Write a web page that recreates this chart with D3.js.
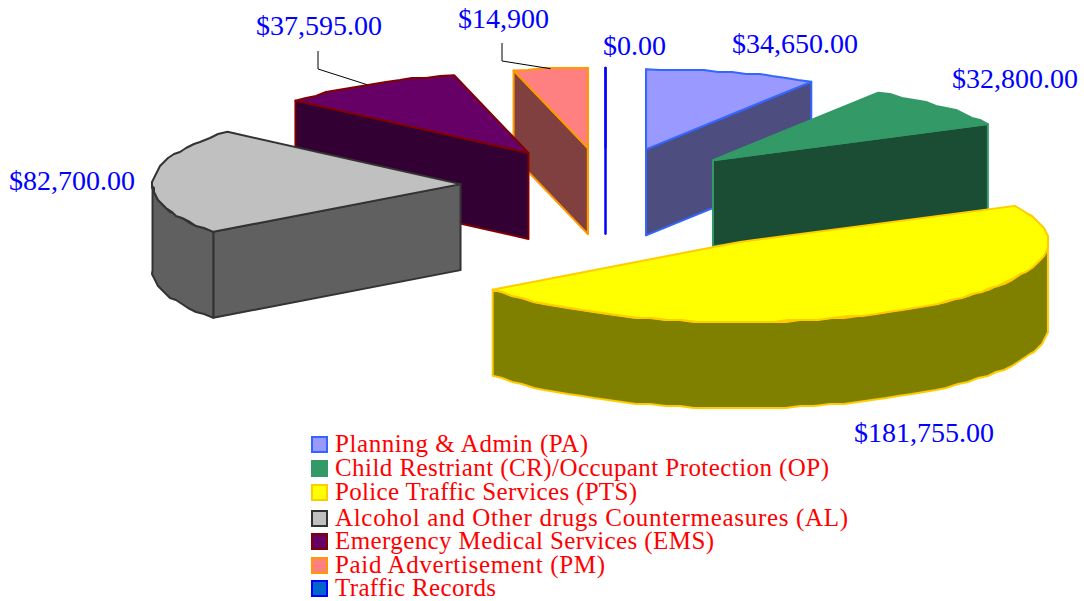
<!DOCTYPE html>
<html>
<head>
<meta charset="utf-8">
<script src="https://cdnjs.cloudflare.com/ajax/libs/d3/7.8.5/d3.min.js"></script>
<style>
  html, body { margin: 0; padding: 0; background: #fff; }
  svg { display: block; }
  text { font-family: "Liberation Serif", serif; }
</style>
</head>
<body>
<script>
// chart data
var categories = [
  "Planning & Admin (PA)",
  "Child Restriant (CR)/Occupant Protection (OP)",
  "Police Traffic Services (PTS)",
  "Alcohol and Other drugs Countermeasures (AL)",
  "Emergency Medical Services (EMS)",
  "Paid Advertisement (PM)",
  "Traffic Records"
];
var amounts = [34650, 32800, 181755, 82700, 37595, 14900, 0];
var amountLabels = ["$34,650.00", "$32,800.00", "$181,755.00", "$82,700.00", "$37,595.00", "$14,900", "$0.00"];

// colours per slice
var topColors = ["#9999ff", "#339966", "#ffff00", "#c0c0c0", "#660066", "#ff8080", "#0066cc"];
var sideColors = ["#4d4d80", "#1a4d33", "#808000", "#606060", "#330033", "#804040", "#003366"];
var edgeColors = ["#3366ff", "#339966", "#ffcc00", "#333333", "#800000", "#ff9900", "#0000ff"];

// layout
var width = 1084, height = 601;
var cx = 605.5, cy = 185.5, depth = 86;
var pulls = [0.471, 0.471, 0.83, 0.471, 0.478, 0.471, 0.471];
var labelPos = [[732, 53], [952, 88], [854, 442], [9, 190], [256, 35], [458, 28], [603, 55]];
var leaderKnees = {4: [[318, 51], [318, 69]], 5: [[502, 43], [502, 61]]};
var legendBaselines = [452, 476, 500, 526, 549, 573, 596];
var legendWidths = [253, 494, 302, 513, 379, 270, 161];
var drawOrder = [5, 6, 4, 0, 1, 3, 2];

var svg = d3.select("body")
            .append("svg")
            .attr("width", width)
            .attr("height", height);

// the tilted pie is a flat circle squeezed into an ellipse
var xScale = d3.scaleLinear().domain([-1, 1]).range([-308, 308]);
var yScale = d3.scaleLinear().domain([-1, 1]).range([-80, 80]);

var slices = d3.pie().sort(null).startAngle(0).endAngle(2 * Math.PI)(amounts);

function project(d, r, angle) {
  var mid = (d.startAngle + d.endAngle) / 2;
  var p = pulls[d.index];
  return [
    cx + xScale(p * Math.sin(mid) + r * Math.sin(angle)),
    cy + yScale(-p * Math.cos(mid) - r * Math.cos(angle))
  ];
}

function drop(pt) {
  return [pt[0], pt[1] + depth];
}

// rim is a coarse polygon in the original, snap the inner points to a grid
function arcPoints(d, a0, a1) {
  var n = Math.max(1, Math.ceil((a1 - a0) / 0.05));
  return d3.range(n + 1).map(function(i) {
    var pt = project(d, 1, a0 + (a1 - a0) * i / n);
    if (i === 0 || i === n) return pt;
    return [Math.round(pt[0] / 2) * 2, Math.round(pt[1] / 2) * 2];
  });
}

var line = d3.line();

function closed(points) {
  return line(points) + "Z";
}

var eps = 1e-9;

var sliceGroups = svg.selectAll("g.slice")
  .data(drawOrder.map(function(i) { return slices[i]; }))
  .enter()
  .append("g")
  .attr("class", "slice");

sliceGroups.each(function(d) {
  var g = d3.select(this);
  var apex = project(d, 0, 0);
  var walls = [];

  // cut faces, only the ones turned to the viewer
  if (Math.sin(d.startAngle) < eps) {
    var s = project(d, 1, d.startAngle);
    walls.push([apex, s, drop(s), drop(apex)]);
  }
  if (Math.sin(d.endAngle) > -eps) {
    var e = project(d, 1, d.endAngle);
    walls.push([apex, e, drop(e), drop(apex)]);
  }

  // outer rim, front half of the ellipse only
  var a0 = Math.max(d.startAngle, Math.PI / 2);
  var a1 = Math.min(d.endAngle, 3 * Math.PI / 2);
  if (a1 > a0) {
    var rim = arcPoints(d, a0, a1);
    walls.push(rim.concat(rim.slice().reverse().map(drop)));
  }

  walls.forEach(function(w) {
    g.append("path")
     .attr("d", closed(w))
     .attr("fill", sideColors[d.index])
     .attr("stroke", edgeColors[d.index])
     .attr("stroke-width", 2)
     .attr("stroke-linejoin", "round");
  });

  // top face
  var top = [apex].concat(arcPoints(d, d.startAngle, d.endAngle));
  g.append("path")
   .attr("d", closed(top))
   .attr("fill", topColors[d.index])
   .attr("stroke", edgeColors[d.index])
   .attr("stroke-width", 2)
   .attr("stroke-linejoin", "round");
});

// leader lines for the two labels that sit away from their slice
Object.keys(leaderKnees).forEach(function(k) {
  var d = slices[+k];
  var mid = (d.startAngle + d.endAngle) / 2;
  svg.append("path")
     .attr("d", line(leaderKnees[k].concat([project(d, 1, mid)])))
     .attr("fill", "none")
     .attr("stroke", "#000")
     .attr("stroke-width", 1);
});

// value labels
svg.selectAll("text.value")
   .data(amountLabels)
   .enter()
   .append("text")
   .attr("class", "value")
   .attr("x", function(d, i) { return labelPos[i][0]; })
   .attr("y", function(d, i) { return labelPos[i][1]; })
   .attr("font-size", "28px")
   .attr("fill", "#0000ff")
   .text(function(d) { return d; });

// legend
var legend = svg.selectAll("g.legend")
  .data(categories)
  .enter()
  .append("g")
  .attr("class", "legend");

legend.append("rect")
      .attr("x", 312)
      .attr("y", function(d, i) { return legendBaselines[i] - 15; })
      .attr("width", 15)
      .attr("height", 15)
      .attr("fill", function(d, i) { return topColors[i]; })
      .attr("stroke", function(d, i) { return edgeColors[i]; })
      .attr("stroke-width", 2);

legend.append("text")
      .attr("x", 335)
      .attr("y", function(d, i) { return legendBaselines[i]; })
      .attr("font-size", "25px")
      .attr("textLength", function(d, i) { return legendWidths[i]; })
      .attr("lengthAdjust", "spacing")
      .attr("fill", "#ff0000")
      .text(function(d) { return d; });
</script>
</body>
</html>
